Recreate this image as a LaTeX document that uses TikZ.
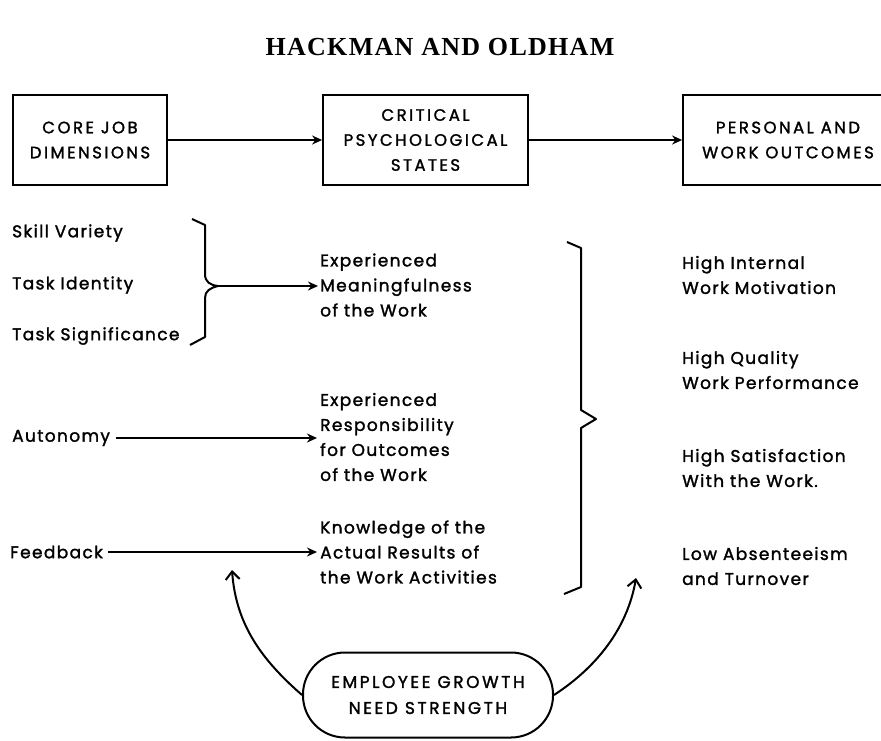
\documentclass[tikz,border=0pt]{standalone}
\usepackage{fontspec}
\usetikzlibrary{arrows.meta}
\newfontfamily\bodyfont[LetterSpace=8, FakeBold=1.6]{Poppins}
\newfontfamily\capsfont[LetterSpace=15, FakeBold=1.6]{Poppins}
\newfontfamily\titlefont[LetterSpace=5]{Liberation Serif}
\begin{document}
\begin{tikzpicture}[x=1pt,y=-1pt,
  txt/.style={font=\bodyfont\fontsize{17}{25}\selectfont, inner sep=0pt, align=left, anchor=west},
  boxtxt/.style={font=\capsfont\fontsize{16.5}{25}\selectfont, draw, line width=1.8pt, align=center, minimum height=90pt},
  arr/.style={line width=2pt, -{Stealth[length=10pt,width=9pt]}},
  curv/.style={line width=2pt, -{Straight Barb[length=8pt,width=14pt,line width=2pt]}},
  brace/.style={line width=2pt, line join=round}
]
\useasboundingbox (0,0) rectangle (881,740);
% title
\node[font=\titlefont\bfseries\fontsize{26}{30}\selectfont, inner sep=0pt] (title) at (440,47) {HACKMAN AND OLDHAM};
% top boxes
\node[boxtxt, minimum width=154pt] (core) at (90,140) {CORE JOB\\DIMENSIONS};
\node[boxtxt, minimum width=205pt] (crit) at (425.5,140) {CRITICAL\\PSYCHOLOGICAL\\STATES};
\node[boxtxt, minimum width=210pt] (pers) at (788,140) {PERSONAL AND\\WORK OUTCOMES};
\draw[arr] (core.east) -- (crit.west);
\draw[arr] (crit.east) -- (pers.west);
% left column
\node[txt] (skill) at (12,233) {Skill Variety};
\node[txt] (ident) at (12,285) {Task Identity};
\node[txt] (signif) at (12,336) {Task Significance};
\node[txt] (auto) at (12,438) {Autonomy};
\node[txt] (feed) at (10,552) {Feedback};
% middle column
\node[txt] (mean) at (320,285) {Experienced\\Meaningfulness\\of the Work};
\node[txt] (resp) at (320,437) {Experienced\\Responsibility\\for Outcomes\\of the Work};
\node[txt] (know) at (320,552) {Knowledge of the\\Actual Results of\\the Work Activities};
% right column
\node[txt] (motiv) at (682,275) {High Internal\\Work Motivation};
\node[txt] (qual) at (682,370) {High Quality\\Work Performance};
\node[txt] (satis) at (682,468) {High Satisfaction\\With the Work.};
\node[txt] (absent) at (682,566) {Low Absenteeism\\and Turnover};
% small brace
\coordinate (b1top) at (192,219);
\coordinate (b1tip) at (218,286);
\coordinate (b1bot) at (190,345);
\draw[brace] (b1top) -- (205,225) -- (205,274) .. controls (205,282) and (210,285) .. (b1tip)
  .. controls (210,288) and (205,291) .. (205,298) -- (205,337) -- (b1bot);
\draw[arr] (b1tip) -- ([xshift=-2pt]b1tip -| mean.west);
% single arrows
\draw[arr] ([xshift=6pt]auto.east) -- ([xshift=-3pt]auto.east -| resp.west);
\draw[arr] ([xshift=5pt]feed.east) -- ([xshift=-3pt]feed.east -| know.west);
% big brace
\coordinate (b2top) at (567,242);
\coordinate (b2tip) at (596,419);
\coordinate (b2bot) at (564,594);
\draw[brace] (b2top) -- (581,248) -- (581,410) -- (b2tip) -- (581,428) -- (581,587) -- (b2bot);
% growth need strength
\node[font=\capsfont\fontsize{17}{26}\selectfont, draw, line width=2pt, rounded corners=42pt,
  minimum width=250pt, minimum height=85pt, align=center] (gns) at (428,695) {EMPLOYEE GROWTH\\NEED STRENGTH};
\coordinate (tipL) at (232,570);
\coordinate (tipR) at (636,578);
\draw[curv] (gns.west) .. controls (262,660) and (236,625) .. (tipL);
\draw[curv] (gns.east) .. controls (600,665) and (628,625) .. (tipR);
\end{tikzpicture}
\end{document}
